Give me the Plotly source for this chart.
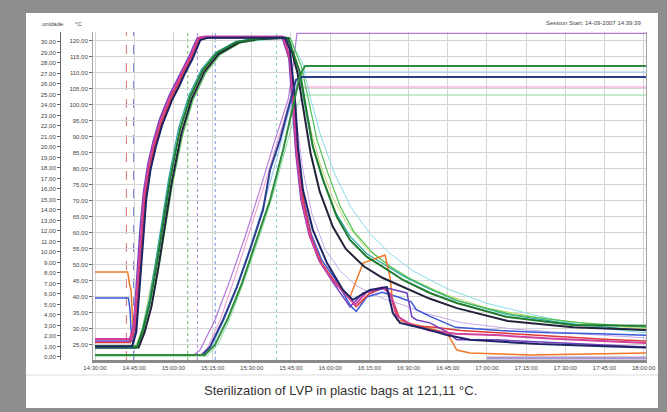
import plotly.graph_objects as go
import pandas as pd

BASE = pd.Timestamp("2007-09-14 14:30:00")

# ---- data: minutes after 14:30:00 and temperature (°C) ----
s1_t = [0, 13.4, 15.0, 16.3, 17.5, 18.8, 20.5, 22.5, 25, 28.7, 31.5, 33.7, 36.4, 38.2, 39.5, 42, 72, 74.6, 75.8, 77.3, 79.2, 82.3, 86.1, 91.1, 97.6, 99.5, 104, 110, 113, 115.6, 120.6, 128, 138, 155, 174, 193, 210.9]
s1_T = [26.9, 26.9, 31, 45, 60, 72, 81, 88, 95, 102.5, 107, 110.9, 115, 118.5, 120.9, 121.3, 121.3, 114, 100, 84, 70, 59, 51, 45, 39.5, 37.5, 41.5, 43, 41, 34, 31.5, 29.5, 28.5, 28, 27, 26.3, 25.6]

s2_t = [0, 13.6, 15.2, 16.6, 17.8, 19.1, 20.8, 22.8, 25.4, 29, 31.8, 34, 36.7, 38.5, 39.8, 42.5, 72.5, 75, 76.3, 78, 80, 83, 87, 92, 98, 100, 105, 111, 113.5, 116.5, 121, 130, 140, 160, 180, 195, 210.9]
s2_T = [25.8, 25.8, 30, 44, 59, 71, 80, 87, 94, 101.8, 106.5, 110.5, 114.6, 118, 120.6, 121.1, 121.1, 113, 98, 82, 69, 58, 50, 44.5, 39, 37, 41, 43, 40, 33.5, 31, 30.5, 29.5, 28.5, 27.5, 26.8, 26.2]

s3_t = [0, 13.2, 14.8, 16.0, 17.2, 18.5, 20.2, 22.2, 24.7, 28.4, 31.2, 33.4, 36.1, 37.9, 39.2, 41.5, 71.5, 74.2, 75.4, 76.9, 78.8, 81.9, 85.7, 90.7, 97.6, 102.6, 111.7, 119.4, 121.3, 123.2, 128.2, 134.7, 138.5, 153.8, 179.1, 209.7, 210.9]
s3_T = [26.2, 26.2, 31.5, 46, 61, 72.5, 81.5, 88.5, 95.5, 103, 107.5, 111.3, 115.4, 118.8, 121, 121.4, 121.4, 114.5, 100.5, 84.5, 70.5, 59.5, 51.5, 45, 36.9, 41.25, 42.8, 41.25, 33.75, 32.8, 31.9, 29.1, 26.6, 26.6, 25.6, 24.4, 24.4]

s4_t = [0, 12.5, 13.2, 13.8, 14.6, 15.4, 16.6, 17.8, 19.1, 20.8, 22.8, 25.3, 29, 31.8, 34, 36.7, 38.5, 39.8, 42.3, 72, 74.8, 76, 77.6, 79.5, 82.5, 86.5, 91.5, 97.6, 102.6, 111, 112.9, 114, 115.6, 134.7, 138.5, 143.5, 166.5, 204.7, 210.9]
s4_T = [47.8, 47.8, 44, 42, 30, 33, 46, 59, 71, 80.5, 87.5, 94.5, 102, 106.8, 110.6, 114.8, 118.2, 120.7, 121.2, 121.2, 113, 98, 83, 70, 59, 51, 45, 40, 50.6, 53.1, 46.25, 38.1, 32.8, 28.75, 23.4, 22.5, 21.9, 22.5, 22.5]

s5_t = [0, 12.8, 13.4, 14.0, 14.6, 15.6, 16.9, 18.1, 19.4, 21.1, 23.1, 25.6, 29.3, 32.1, 34.3, 37, 38.8, 40.1, 42.8, 72.3, 75, 76.2, 77.8, 79.8, 82.8, 86.8, 92, 98, 100, 104, 110, 116, 121, 123, 128, 138, 155, 174, 193, 210.9]
s5_T = [39.7, 39.7, 36, 27, 25.5, 30, 45, 58, 70, 79.5, 86.5, 93.5, 101.5, 106, 110, 114.3, 117.8, 120.4, 121, 121, 113.5, 99, 83.5, 70.5, 59.5, 51.5, 45.5, 37, 35.5, 40, 41.5, 40, 38.5, 36, 34, 30.5, 29.5, 28.8, 28.5, 28]

s6_t = [0, 14.2, 15.8, 17.1, 18.3, 19.6, 21.3, 23.3, 25.8, 29.5, 32.3, 34.5, 37.2, 39, 40.3, 43, 72.8, 74.6, 76.5, 77.7, 79.6, 83.4, 88.8, 94.9, 98.7, 105.2, 111.7, 114, 116.7, 128.2, 134.7, 143.5, 170, 195, 210.9]
s6_T = [24.6, 24.6, 29, 43, 58, 70.5, 80, 87, 94, 101.5, 106, 110, 114.2, 117.6, 120.3, 121, 121, 117.2, 102.5, 86.9, 73.4, 60.9, 50.6, 42.2, 39.1, 42.2, 43.1, 35, 31.9, 29.7, 28.1, 26.6, 25.3, 24.6, 24.2]

s7_t = [0, 16.1, 18.4, 21, 23.7, 26.2, 28.7, 32.5, 36.4, 41.3, 46.7, 54.3, 61.2, 67, 73.5, 74.6, 78.5, 81.1, 83.4, 87.3, 92.6, 97.6, 104.1, 110.2, 117.9, 128.2, 138.5, 157.7, 183, 210.9]
s7_T = [24.4, 24.4, 29.7, 38, 50.6, 64, 76.6, 92.2, 102.5, 110.9, 116.25, 119.7, 120.6, 120.9, 121, 119.4, 110, 97.5, 86.9, 76.6, 65, 57.8, 52.5, 49.4, 45.3, 41.25, 38.1, 33.75, 31.25, 31]

s8_t = [0, 16.7, 19, 21.6, 24.3, 26.8, 29.3, 33.1, 37, 41.9, 47.3, 54.9, 61.8, 67.6, 74, 77.5, 80, 82.5, 86, 91, 96, 103, 110, 118, 128, 138.5, 158, 183, 210.9]
s8_T = [24.2, 24.2, 29, 37, 49.5, 63, 75.5, 91.2, 101.8, 110.4, 115.9, 119.5, 120.5, 120.8, 120.9, 110, 97, 85, 73, 62, 55, 49.5, 46, 43, 39.5, 36.5, 32.5, 30.5, 29.7]

s9_t = [0, 16.5, 19, 21.8, 24.5, 27, 29.6, 33.5, 37.5, 42.5, 48, 55.5, 62.5, 68.5, 74.8, 79, 82, 85, 89, 94, 99, 106, 113, 120, 130, 140, 160, 185, 210.9]
s9_T = [24.8, 24.8, 29.5, 37.5, 49.5, 62.5, 75, 90.5, 101.5, 110.2, 115.8, 119.4, 120.4, 120.8, 120.9, 112, 100, 89, 79, 68, 60.5, 54, 49.5, 46, 42, 38.5, 34.5, 32, 30.5]

s10_t = [0, 15.8, 18.1, 20.6, 23.3, 25.8, 28.3, 32, 35.9, 40.8, 46.2, 53.8, 60.7, 66.5, 73, 74.6, 78, 80.5, 83, 87, 92, 97.6, 104, 110, 118, 128, 138, 158, 183, 210.9]
s10_T = [24.0, 24.0, 29.9, 38.5, 51.5, 65, 77.5, 92.8, 102.9, 111.2, 116.4, 119.8, 120.7, 120.9, 121, 119, 111, 99, 88, 77, 66.5, 59, 53.5, 50.5, 46.5, 42.5, 39, 34.5, 31.5, 29.5]

s11_t = [0, 41, 44, 49, 54.3, 59.3, 64.3, 67, 70.8, 74.6, 76.9, 79.2, 210.9]
s11_T = [21.9, 21.9, 24.4, 32.8, 43.1, 54.7, 67.2, 79.7, 89.1, 100.6, 107.8, 108.75, 108.75]

s12_t = [0, 42, 45.9, 50.9, 56.3, 61.6, 67, 72, 75.8, 78.5, 80.4, 210.9]
s12_T = [21.9, 21.9, 25, 33.4, 44.4, 56.9, 70.3, 85.9, 100, 109.4, 112.2, 112.2]

s13_t = [0, 38, 40.2, 45.9, 51.7, 57.4, 63.1, 68.9, 73.9, 75.5, 76.5, 77.3, 210.9]
s13_T = [22, 22, 23.4, 32.8, 45.3, 58.75, 73.4, 89.1, 101.6, 110, 117, 122.4, 122.4]

s14_t = [0, 43, 47, 52, 57.5, 63, 68.5, 73.5, 77.5, 79.5, 210.9]
s14_T = [21.5, 21.5, 25, 34, 46, 59, 73, 88, 100, 103.1, 103.1]

s15_t = [0, 40, 43, 48, 53.5, 59, 64.5, 70, 74.5, 77, 210.9]
s15_T = [21.7, 21.7, 24, 33, 46, 60, 74, 89, 101, 105.6, 105.6]

s16_t = [0, 41.5, 45, 50, 55, 60, 65, 69.5, 73.5, 77.5, 80, 210.9]
s16_T = [21.9, 21.9, 25, 34, 45, 57, 70, 83, 96, 107, 110.3, 110.3]

s17_t = [150, 210.9]
s17_T = [20.9, 20.9]

s18_t = [0, 15.5, 18, 23, 28, 32, 36, 41, 47, 55, 73, 75, 79, 82, 86, 91, 97, 104, 112, 122, 135, 150, 170, 190, 210.9]
s18_T = [24.5, 24.5, 30, 50, 74, 90, 101.5, 110, 116, 119.5, 121, 118, 106, 94, 82, 71, 62, 55, 50, 45, 40.5, 36.5, 33.5, 31.5, 30]

s19_t = [0, 13.5, 15.2, 17.5, 20.5, 25, 29, 34, 39.5, 42, 72, 75, 77, 79.5, 83, 88, 94, 100, 106, 112, 118, 126, 140, 160, 185, 210.9]
s19_T = [26, 26, 31, 55, 79, 94, 102.5, 110.5, 120.5, 121, 121, 112, 96, 80, 66, 55, 48, 43.5, 41, 39, 37.5, 35, 32, 30, 28.5, 27.2]

s20_t = [0, 16, 18.5, 23.5, 28.5, 32.5, 36.5, 41.5, 47, 55, 73.5, 75.5, 79.5, 82.5, 86.5, 92, 98, 105, 113, 122, 135, 150, 170, 190, 210.9]
s20_T = [24.2, 24.2, 29.5, 49, 73, 89.5, 101, 109.8, 116, 119.5, 121, 119, 113, 102, 90, 78, 68, 60, 53.5, 48, 42.5, 38, 34, 30.5, 28.8]

# event markers (minutes after 14:30)
event_t = [12, 14.8, 35.5, 39.2, 46, 69.5]
event_color = ["#e07070", "#6070d8", "#70b070", "#b080d0", "#7090e0", "#80d8c8"]
event_dash = ["dash", "dash", "dot", "dot", "dot", "dot"]

# axis tick values
temp_ticks = [25, 30, 35, 40, 45, 50, 55, 60, 65, 70, 75, 80, 85, 90, 95, 100, 105, 110, 115, 120]
unit_ticks = list(range(0, 31))

title_text = "Sterilization of LVP in plastic bags at 121,11 °C."
header_left = "unidade"
header_unit = "°C"
header_right = "Session Start: 14-09-2007 14:39:39"

series = [
    (s18_t, s18_T, "#c2d86e", 1),
    (s19_t, s19_T, "#c6a8e8", 1),
    (s20_t, s20_T, "#86dce6", 1),
    (s14_t, s14_T, "#8adca2", 1),
    (s15_t, s15_T, "#f094cc", 1),
    (s16_t, s16_T, "#9ccaf0", 1.2),
    (s13_t, s13_T, "#b47ad8", 1.2),
    (s10_t, s10_T, "#2aa6a6", 1.2),
    (s9_t, s9_T, "#4cc252", 1.2),
    (s5_t, s5_T, "#3a58d8", 1.5),
    (s4_t, s4_T, "#f07828", 1.5),
    (s2_t, s2_T, "#e03838", 1.5),
    (s3_t, s3_T, "#7040c0", 1.5),
    (s1_t, s1_T, "#d0409c", 2),
    (s8_t, s8_T, "#22223a", 2),
    (s7_t, s7_T, "#1f7a30", 2),
    (s6_t, s6_T, "#1e2466", 2),
    (s11_t, s11_T, "#2b3d90", 2),
    (s12_t, s12_T, "#2f8c3c", 2),
    (s17_t, s17_T, "#a99ad0", 3),
]


def to_time(mins):
    return [BASE + pd.Timedelta(minutes=m) for m in mins]


fig = go.Figure()
for t, T, c, w in series:
    fig.add_trace(go.Scatter(x=to_time(t), y=T, mode="lines",
                             line=dict(color=c, width=w),
                             showlegend=False, hoverinfo="skip"))

# carrier for the outer (unit) axis
fig.add_trace(go.Scatter(x=to_time([0]), y=[0], yaxis="y2", mode="markers",
                         marker=dict(opacity=0), showlegend=False, hoverinfo="skip"))

# geometry (pixels)
W, H = 667, 412
ML, MR, MT, MB = 60, 21, 32, 52
PW, PH = W - ML - MR, H - MT - MB


def px(x):
    return (x - ML) / PW


def py(y):
    return (H - MB - y) / PH


shapes = [
    dict(type="rect", xref="paper", yref="paper", x0=px(26), x1=px(658), y0=py(408), y1=py(13),
         fillcolor="white", line=dict(width=0), layer="below"),
    dict(type="line", xref="paper", yref="paper", x0=px(26), x1=px(658), y0=py(375), y1=py(375),
         line=dict(color="#dcdcdc", width=1)),
]
for et, ec, ed in zip(event_t, event_color, event_dash):
    tt = to_time([et])[0]
    shapes.append(dict(type="line", xref="x", yref="paper", x0=tt, x1=tt, y0=0, y1=1,
                       line=dict(color=ec, width=1, dash=ed), layer="between"))

tick_font = dict(family="Liberation Sans, Arial", size=6, color="#444")

fig.update_layout(
    width=W, height=H,
    margin=dict(l=ML, r=MR, t=MT, b=MB, pad=0),
    paper_bgcolor="#8e8e8e",
    plot_bgcolor="white",
    separators=",.",
    showlegend=False,
    shapes=shapes,
    xaxis=dict(
        domain=[px(93), 1],
        type="date",
        range=[BASE + pd.Timedelta(minutes=-0.77), BASE + pd.Timedelta(minutes=210.9)],
        tickmode="linear", tick0=BASE, dtick=15 * 60 * 1000,
        tickformat="%H:%M:%S", tickfont=tick_font,
        showgrid=True, gridcolor="#d4d4d4", gridwidth=1,
        showline=True, linecolor="#8a8a8a", linewidth=3, mirror=False,
        ticks="", zeroline=False, automargin=False,
    ),
    yaxis=dict(
        range=[20.3, 122.8],
        tickvals=temp_ticks, tickformat=".2f", tickfont=tick_font,
        showgrid=True, gridcolor="#d4d4d4", gridwidth=1,
        showline=True, linecolor="#a0a0a0", linewidth=1, mirror=True,
        ticks="outside", ticklen=3, tickcolor="#666",
        zeroline=False, automargin=False,
    ),
    yaxis2=dict(
        range=[-0.29, 30.95],
        tickvals=unit_ticks, tickformat=".2f", tickfont=tick_font,
        overlaying="y", anchor="free", position=0, side="left",
        showgrid=False, showline=True, linecolor="#666", linewidth=1,
        ticks="outside", ticklen=3, tickcolor="#666",
        zeroline=False, automargin=False,
    ),
    annotations=[
        dict(text=title_text, xref="paper", yref="paper", x=px(340), y=py(390),
             showarrow=False, xanchor="center", yanchor="middle",
             font=dict(family="Liberation Sans, Arial", size=13, color="#333")),
        dict(text=header_left, xref="paper", yref="paper", x=px(40), y=py(24),
             showarrow=False, xanchor="left", yanchor="middle", font=tick_font),
        dict(text=header_unit, xref="paper", yref="paper", x=px(73), y=py(24),
             showarrow=False, xanchor="left", yanchor="middle", font=tick_font),
        dict(text=header_right, xref="paper", yref="paper", x=px(643), y=py(23),
             showarrow=False, xanchor="right", yanchor="middle", font=tick_font),
    ],
)

fig.write_html("out.html",
               config={"displayModeBar": False},
               post_script="document.body.style.margin='0';document.body.style.overflow='hidden';")
